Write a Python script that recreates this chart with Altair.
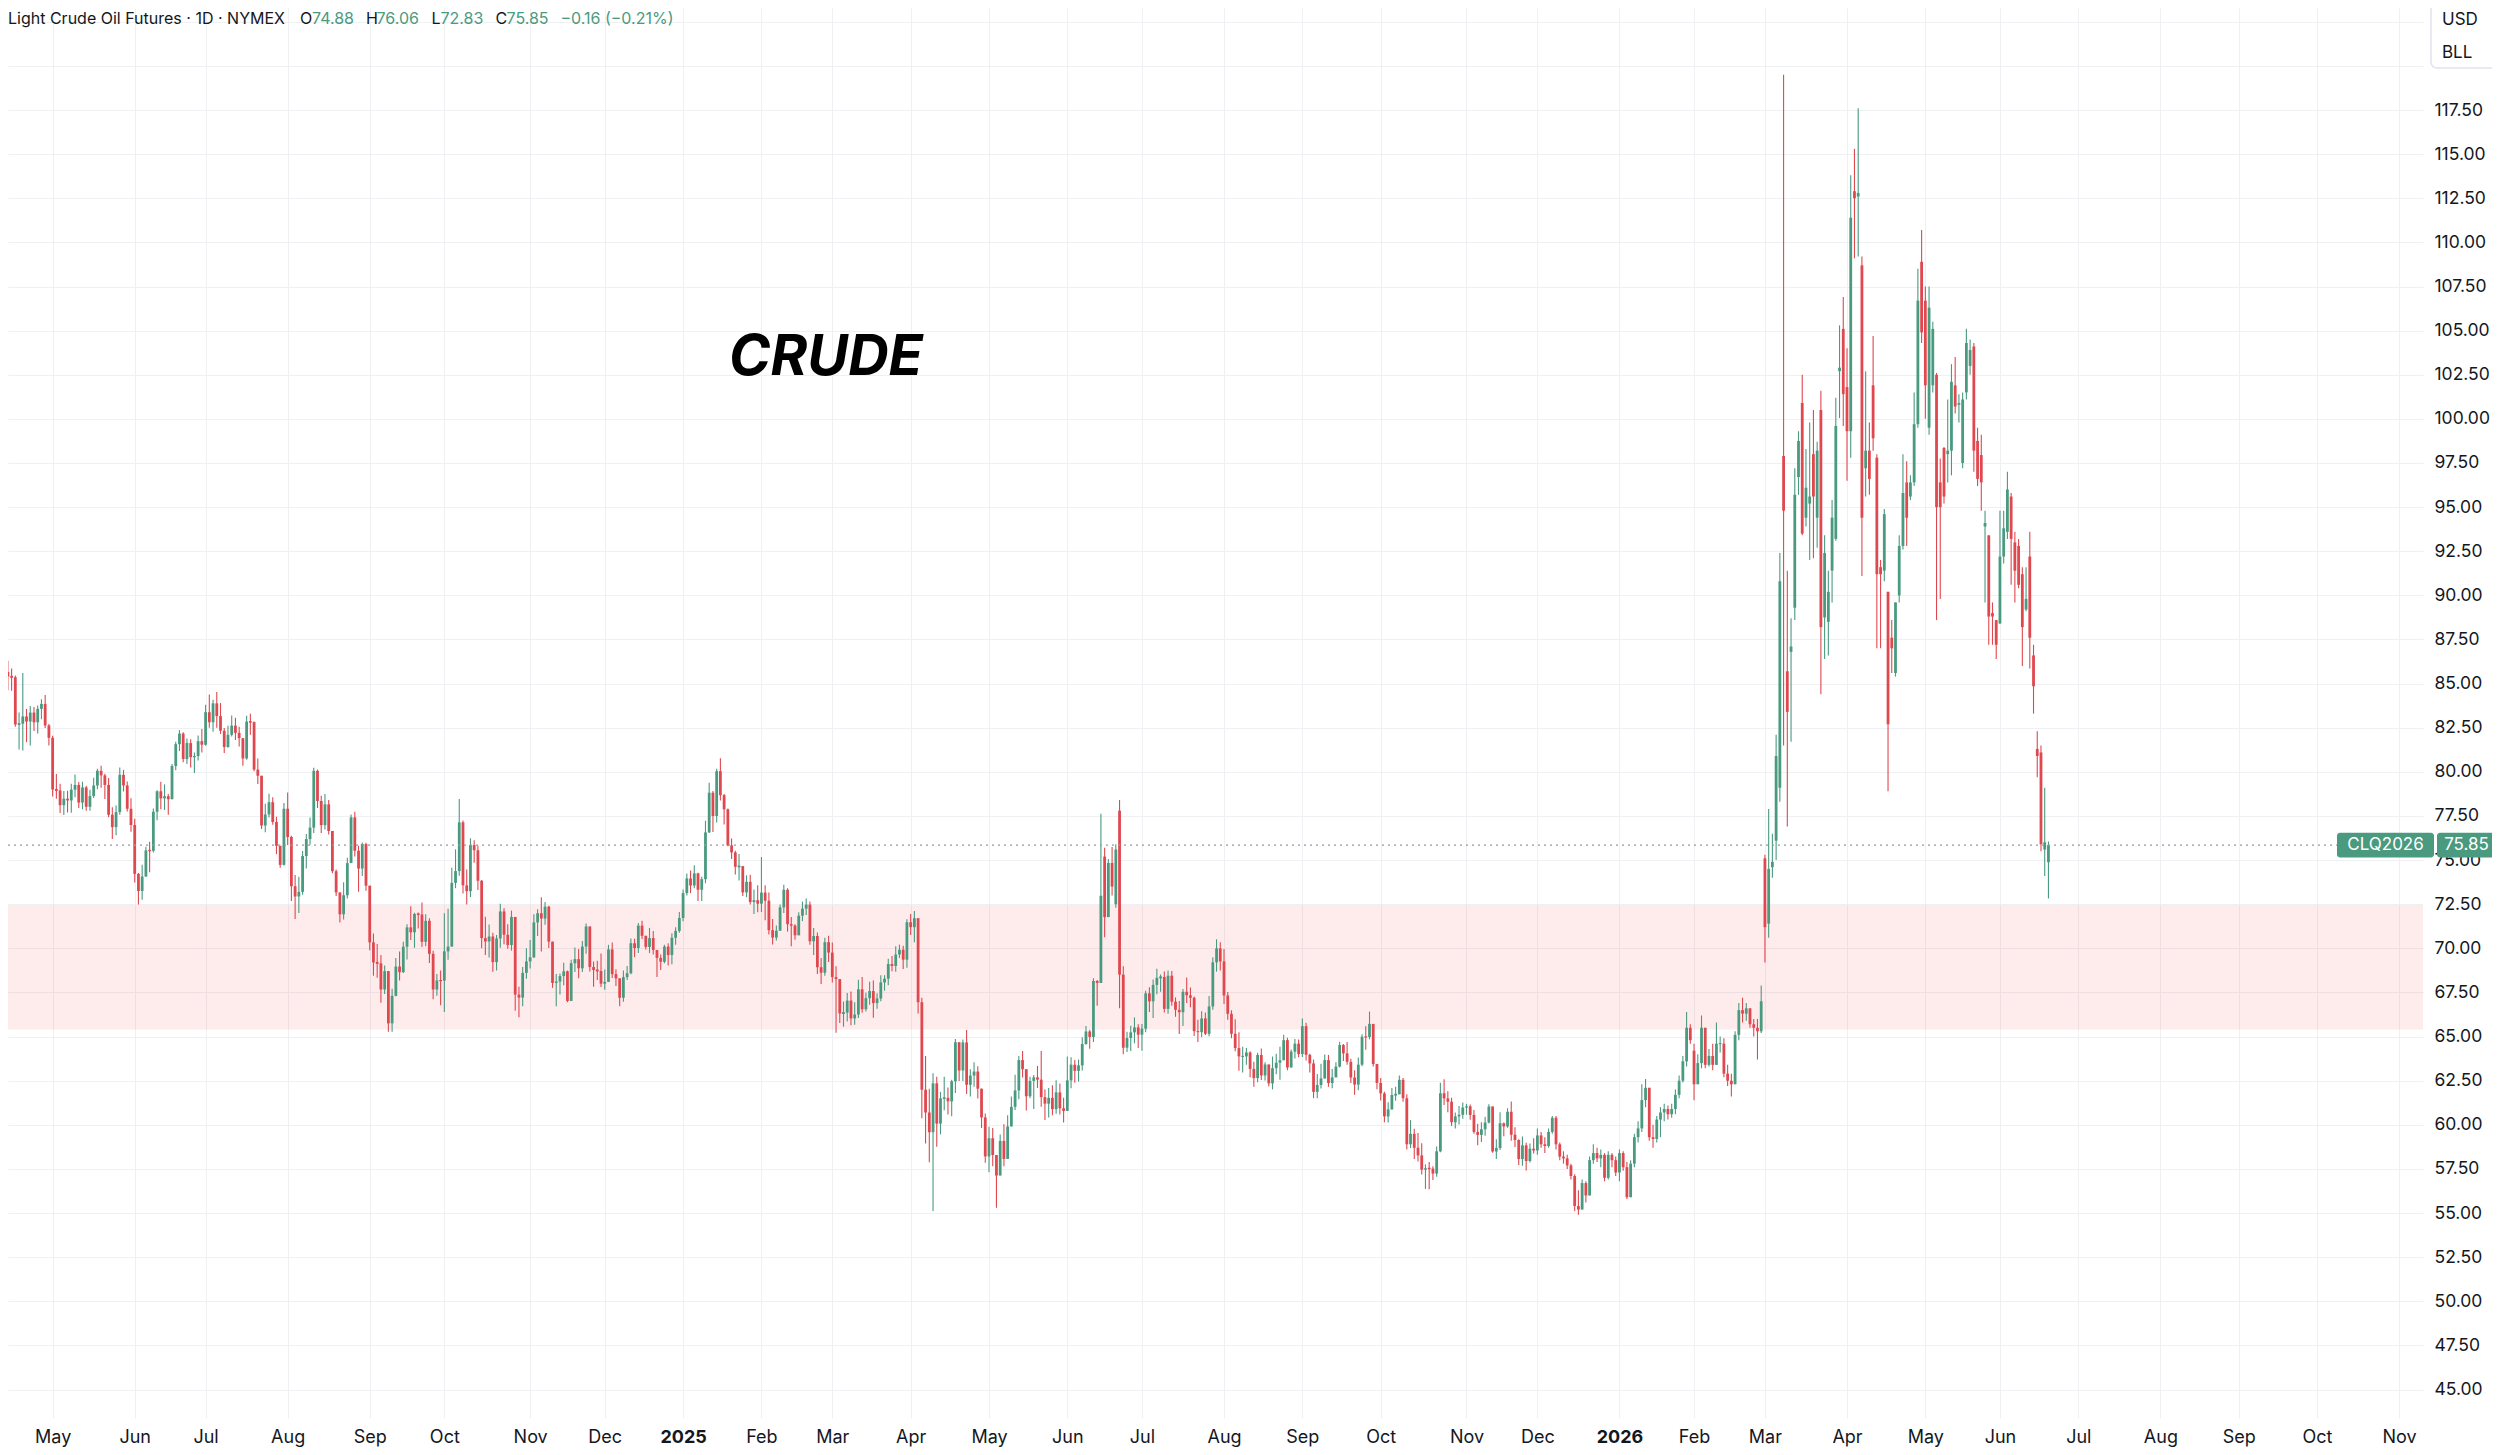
import json
import sys
from datetime import date, timedelta

import pandas as pd
import altair as alt

# ---------------------------------------------------------------- calendar
HOLIDAYS = ["2024-05-27", "2024-06-19", "2024-07-04", "2024-09-02", "2024-11-28", "2024-12-25",
            "2025-01-01", "2025-01-20", "2025-02-17", "2025-04-18", "2025-05-26", "2025-06-19",
            "2025-07-04", "2025-09-01", "2025-11-27", "2025-12-25",
            "2026-01-01", "2026-01-19", "2026-02-16", "2026-04-03", "2026-05-25", "2026-06-19",
            "2026-07-03", "2026-09-07"]
FIRST_DAY = "2024-04-12"
LAST_DAY = "2026-06-18"
AXIS_END = "2026-11-30"
FIRST_OPEN = 85.10

# ---------------------------------------------------------------- 2024 (Apr 12 - Dec 31)
C_2024 = [85.66, 85.41, 85.36, 82.69, 82.73, 83.14, 82.85, 83.36, 82.81, 83.57, 83.85, 82.63, 81.93,
          79.00, 78.95, 78.11, 78.48, 78.38, 78.99, 79.26, 78.26, 79.12, 78.02, 78.63, 79.23, 80.06, 79.80, 79.26, 77.57, 76.87, 77.72, 79.83, 79.23, 77.91, 76.99,
          74.22, 73.25, 74.07, 75.55, 75.53, 77.74, 78.90, 78.50, 78.62, 78.45, 80.33, 81.57, 82.17, 80.73, 81.63, 80.83, 80.90, 81.74, 81.54,
          83.38, 82.81, 83.88, 83.16, 82.33, 81.41, 82.10, 82.62, 82.21, 81.91, 80.76, 82.85, 82.82, 80.13, 79.78, 76.96, 77.59, 78.28, 77.16, 75.81, 74.73, 77.91,
          76.31, 73.52, 72.94, 73.20, 75.23, 76.19, 76.84, 80.06, 78.35, 76.98, 78.16, 76.65, 74.37, 73.17, 71.93, 73.01, 74.83, 77.42, 75.53, 74.52, 75.91, 73.55,
          70.34, 69.20, 69.15, 67.67, 68.71, 65.75, 67.31, 68.97, 68.65, 70.09, 71.19, 70.91, 71.95, 71.92, 70.37, 71.56, 69.69, 67.67, 68.18, 68.17,
          69.83, 70.10, 73.71, 74.38, 77.14, 73.57, 73.24, 75.85, 75.56, 73.83, 70.58, 70.39, 70.67, 69.22, 70.56, 72.09, 70.77, 70.19, 71.78, 67.38, 67.21, 68.61, 69.26,
          69.49, 71.47, 71.99, 71.69, 72.36, 70.38, 68.04, 68.12, 68.43, 68.70, 67.02, 69.16, 69.39, 68.87, 70.10, 71.24, 68.94, 68.77, 68.72, 68.00,
          68.10, 69.94, 68.54, 68.30, 67.20, 68.37, 68.59, 70.29, 70.02, 71.29, 70.71, 70.08, 70.58, 69.91, 69.46, 69.24, 70.10, 69.62, 70.60, 70.99, 71.72]
H_2024 = [86.50, 86.29, 85.86, 85.46, 83.36, 85.60, 83.57, 83.73, 83.68, 83.76, 84.12, 84.36, 82.71,
          82.05, 79.88, 79.33, 78.91, 78.93, 79.32, 79.85, 79.43, 79.44, 79.20, 78.98, 79.67, 80.18, 80.35, 79.90, 79.65, 77.99, 78.10, 80.24, 80.11, 79.45, 78.50,
          77.35, 74.27, 74.73, 75.75, 76.04, 77.92, 78.96, 79.44, 79.29, 78.75, 80.44, 81.70, 82.37, 82.24, 81.89, 81.85, 81.10, 82.06, 82.43,
          83.80, 84.38, 84.09, 84.52, 83.90, 82.48, 82.61, 83.20, 83.07, 82.55, 81.89, 83.18, 83.29, 82.86, 80.75, 79.37, 78.20, 78.76, 78.56, 77.46, 75.79, 78.24,
          78.83, 76.38, 74.16, 74.05, 75.51, 76.48, 77.42, 80.23, 80.13, 78.64, 78.74, 78.41, 76.30, 74.47, 73.10, 73.75, 75.13, 77.58, 77.74, 75.81, 76.00, 75.99,
          73.35, 70.84, 70.25, 69.63, 69.03, 68.69, 67.71, 69.45, 69.82, 70.37, 71.37, 72.39, 72.02, 72.03, 72.60, 71.93, 71.70, 69.86, 68.54, 68.75,
          71.99, 72.24, 74.57, 75.61, 78.46, 77.25, 74.47, 76.24, 76.13, 75.81, 73.87, 71.79, 71.35, 70.88, 70.75, 72.53, 72.27, 71.37, 72.14, 69.17, 67.83, 68.95, 70.01,
          70.48, 71.93, 72.21, 72.90, 72.62, 72.42, 70.25, 68.55, 68.57, 69.18, 68.74, 69.36, 70.05, 69.97, 70.42, 71.41, 71.22, 69.25, 69.30, 69.71,
          68.80, 70.20, 70.33, 68.82, 68.16, 68.74, 69.00, 70.56, 70.55, 71.43, 71.56, 70.72, 71.16, 70.98, 69.63, 69.65, 70.21, 70.29, 70.85, 71.19, 72.06]
L_2024 = [84.93, 84.63, 84.60, 82.55, 81.26, 81.21, 81.68, 81.49, 82.31, 82.17, 82.98, 82.49, 81.49,
          78.60, 78.47, 77.67, 77.55, 77.70, 77.68, 78.56, 77.95, 77.88, 77.79, 77.80, 78.52, 79.02, 79.10, 78.46, 77.43, 76.20, 76.41, 77.57, 78.89, 77.75, 76.60,
          73.73, 72.48, 72.75, 74.05, 74.31, 75.43, 77.26, 77.88, 77.84, 77.57, 78.45, 80.09, 81.18, 80.54, 80.44, 80.25, 79.94, 80.64, 81.10,
          81.48, 82.50, 82.27, 82.50, 82.15, 81.07, 81.37, 82.01, 81.81, 81.44, 80.34, 80.68, 82.10, 80.03, 79.31, 76.76, 76.58, 77.41, 77.01, 75.34, 74.57, 74.69,
          75.85, 72.69, 71.67, 72.01, 73.04, 74.52, 75.87, 76.53, 77.95, 76.53, 76.74, 76.45, 74.25, 72.97, 71.46, 71.63, 72.82, 74.88, 75.20, 73.21, 74.10, 73.26,
          69.89, 68.45, 68.33, 66.92, 67.42, 65.27, 65.27, 67.28, 68.18, 68.61, 69.37, 70.48, 70.03, 71.13, 70.07, 70.12, 69.17, 67.12, 67.31, 66.78,
          66.40, 69.35, 70.42, 73.41, 74.12, 73.11, 72.48, 72.91, 74.85, 73.31, 70.01, 69.62, 69.48, 68.68, 68.74, 70.03, 70.23, 69.98, 69.87, 66.47, 66.10, 66.72, 68.28,
          68.86, 69.46, 70.70, 69.82, 71.34, 70.02, 67.76, 66.72, 67.38, 67.91, 66.95, 67.02, 68.66, 68.31, 68.66, 69.69, 68.69, 67.82, 68.20, 67.81,
          67.65, 68.13, 68.32, 67.86, 66.72, 66.97, 68.21, 68.53, 69.50, 69.73, 70.53, 69.94, 69.73, 69.65, 68.37, 68.77, 69.15, 69.03, 69.10, 70.20, 70.89]

# ---------------------------------------------------------------- 2025
C_2025 = [73.13, 73.96, 73.56, 74.25, 73.32, 73.92, 76.57, 78.82, 77.50, 80.04, 78.68, 77.88, 75.83, 75.44, 74.62, 74.66, 73.17, 73.77, 72.62, 72.73, 72.53,
          73.16, 72.70, 71.03, 70.61, 71.00, 72.32, 73.32, 71.37, 71.29, 70.74, 71.85, 72.25, 72.48, 70.40, 70.70, 68.93, 68.62, 70.35, 69.76,
          68.37, 68.26, 66.31, 66.36, 67.04, 66.03, 66.25, 67.68, 66.55, 67.18, 67.58, 66.90, 67.16, 68.07, 68.28, 69.11, 69.00, 69.65, 69.92, 69.36, 71.48,
          71.20, 71.71, 66.95, 61.99, 60.70, 59.58, 62.35, 60.07, 61.50, 61.53, 61.33, 62.47, 64.68, 63.08, 64.67, 62.27, 62.79, 63.02, 62.05, 60.42, 58.21,
          59.24, 58.29, 57.13, 59.09, 58.07, 59.91, 61.02, 61.95, 63.67, 63.15, 61.62, 62.49, 62.69, 62.56, 61.57, 61.20, 61.53, 60.89, 61.84, 60.94, 60.79,
          62.52, 63.41, 63.06, 63.37, 64.58, 65.29, 64.98, 68.15, 68.04, 72.98, 71.77, 74.84, 73.50, 75.60, 68.51, 64.37, 64.92, 65.24, 65.52, 65.11,
          65.45, 67.45, 67.00, 67.93, 68.33, 68.38, 66.57, 68.45, 66.98, 66.52, 66.38, 67.54, 67.34, 67.20, 65.31, 65.25, 66.03, 65.16, 66.71, 69.21, 70.00, 69.26,
          67.33, 66.29, 65.16, 64.35, 63.88, 63.88, 64.10, 63.17, 62.65, 63.96, 62.80, 63.42, 62.35, 63.21, 63.52, 63.66, 64.80, 63.25, 64.15, 64.60, 64.01,
          65.59, 63.97, 63.48, 61.87, 62.26, 62.63, 63.67, 62.37, 62.69, 63.30, 64.52, 64.05, 63.57, 62.68, 62.28, 63.41, 64.99, 64.98, 65.72, 63.45, 62.37,
          61.78, 60.48, 60.88, 61.69, 61.73, 62.55, 61.51, 58.90, 59.49, 58.70, 58.27, 57.46, 57.54, 57.52, 57.24, 58.50, 61.79, 61.50, 61.31, 60.15, 60.48, 60.57, 60.98,
          61.05, 60.56, 59.60, 59.43, 59.75, 60.13, 61.04, 58.49, 58.69, 60.09, 59.91, 60.74, 59.44, 59.14, 58.06, 58.84, 57.95, 58.65, 58.55,
          59.40, 58.90, 58.80, 59.60, 60.40, 58.90, 58.20, 58.10, 57.70, 57.10, 55.40, 55.20, 56.70, 56.00, 58.00, 58.40, 58.10, 58.30, 57.00, 58.30, 58.00, 57.30]
H_2025 = [73.33, 74.24, 74.41, 74.71, 74.29, 74.06, 77.23, 79.39, 78.91, 80.18, 80.77, 78.74, 77.93, 76.23, 75.53, 75.34, 74.63, 74.14, 74.17, 73.34, 73.58,
          75.18, 73.58, 73.16, 71.66, 71.30, 72.48, 73.60, 73.41, 71.78, 71.36, 72.04, 72.65, 72.83, 72.65, 71.16, 70.90, 69.45, 70.60, 70.72,
          70.33, 68.99, 68.07, 66.99, 67.47, 67.55, 66.94, 68.22, 68.38, 67.49, 68.11, 68.18, 67.46, 68.48, 68.48, 69.41, 69.57, 70.12, 70.21, 70.15, 71.65,
          71.94, 72.11, 71.51, 67.20, 63.90, 62.04, 62.93, 62.72, 61.87, 62.72, 62.11, 62.56, 64.87, 64.56, 64.83, 65.37, 63.15, 63.55, 63.32, 61.76, 60.64,
          59.89, 59.82, 57.96, 59.45, 60.04, 60.54, 61.60, 62.84, 63.90, 64.19, 63.01, 62.72, 62.83, 63.34, 64.19, 62.00, 62.09, 62.25, 62.52, 62.34, 61.53,
          63.87, 63.83, 63.67, 63.70, 64.96, 65.60, 65.39, 68.30, 68.20, 77.62, 75.70, 75.06, 75.74, 75.90, 78.40, 68.98, 65.27, 65.61, 66.09, 65.70,
          65.72, 67.60, 67.79, 68.23, 68.85, 68.52, 68.69, 68.75, 68.72, 67.22, 67.02, 67.70, 68.35, 67.78, 67.27, 65.95, 66.43, 66.37, 67.30, 69.50, 70.51, 70.34,
          69.96, 67.53, 66.49, 65.98, 65.24, 64.42, 64.35, 64.17, 63.58, 64.08, 64.33, 63.55, 63.42, 63.87, 64.03, 64.42, 65.11, 64.94, 64.27, 64.87, 64.83,
          66.03, 65.78, 64.03, 63.70, 62.88, 63.46, 63.98, 63.96, 63.16, 63.55, 64.71, 64.58, 64.69, 63.74, 63.09, 63.81, 65.14, 65.58, 66.42, 65.50, 63.41,
          62.66, 61.88, 61.28, 62.09, 62.16, 62.79, 62.65, 61.74, 60.27, 59.78, 59.54, 58.96, 57.76, 57.90, 57.66, 58.78, 62.39, 62.59, 61.91, 61.53, 60.70, 61.07, 61.27,
          61.19, 61.15, 60.84, 60.06, 60.14, 60.46, 61.16, 61.04, 59.18, 60.71, 60.13, 60.94, 61.32, 59.86, 59.18, 59.34, 58.99, 58.95, 59.24,
          59.80, 59.60, 59.30, 59.80, 60.50, 60.50, 59.00, 58.50, 58.30, 57.80, 57.20, 56.30, 56.90, 56.80, 58.20, 58.90, 58.70, 58.60, 58.40, 58.50, 58.40, 58.20]
L_2025 = [71.53, 73.00, 73.13, 73.41, 72.69, 72.69, 73.69, 76.54, 76.59, 77.13, 78.38, 77.02, 75.78, 75.06, 74.19, 73.84, 72.96, 72.90, 72.49, 71.94, 72.04,
          72.06, 71.59, 70.78, 70.22, 70.45, 71.11, 72.00, 70.95, 70.12, 70.49, 70.74, 71.54, 71.89, 70.21, 69.62, 68.54, 67.98, 68.45, 69.23,
          68.07, 65.22, 65.77, 65.56, 65.85, 65.64, 65.67, 66.06, 66.35, 66.42, 66.80, 66.07, 66.58, 67.00, 67.60, 67.91, 68.70, 68.68, 69.45, 68.83, 68.90,
          70.75, 70.35, 66.31, 60.37, 58.95, 57.88, 55.12, 58.76, 59.46, 60.83, 60.58, 60.49, 61.80, 62.49, 62.48, 61.75, 61.61, 62.16, 61.49, 59.82, 57.85,
          57.32, 57.65, 55.30, 57.21, 57.66, 58.54, 60.06, 60.84, 61.45, 62.68, 60.81, 61.50, 60.90, 62.09, 61.02, 60.28, 60.41, 60.54, 60.63, 60.58, 60.13,
          60.86, 62.07, 62.38, 62.45, 63.08, 64.54, 64.31, 64.70, 66.75, 68.21, 70.63, 71.78, 73.00, 72.30, 66.60, 64.00, 64.13, 64.18, 64.62, 64.35,
          64.20, 65.25, 66.40, 66.06, 67.40, 67.54, 66.36, 66.30, 66.75, 66.12, 65.15, 65.60, 66.91, 66.67, 65.03, 64.69, 64.97, 65.09, 65.02, 66.52, 68.68, 68.75,
          66.84, 65.95, 64.91, 64.17, 63.07, 62.97, 63.41, 62.70, 62.16, 62.42, 62.54, 62.51, 62.18, 62.01, 62.86, 62.55, 63.67, 63.10, 63.28, 63.76, 63.83,
          63.84, 63.64, 62.96, 61.51, 61.51, 62.06, 62.61, 62.16, 62.07, 62.70, 63.25, 63.62, 63.40, 62.37, 61.71, 61.96, 63.32, 64.26, 64.84, 63.30, 62.02,
          61.38, 60.15, 60.13, 60.86, 61.36, 61.80, 61.31, 58.60, 58.68, 58.06, 57.92, 57.19, 56.37, 56.35, 56.88, 57.06, 58.45, 61.12, 60.72, 59.94, 59.79, 60.02, 60.34,
          60.58, 60.29, 59.49, 58.84, 59.03, 59.38, 60.07, 58.42, 58.06, 58.57, 59.36, 59.83, 59.10, 58.74, 57.72, 57.68, 57.41, 57.87, 58.37,
          58.30, 58.70, 58.40, 58.70, 59.50, 58.60, 58.00, 57.80, 57.50, 56.90, 55.10, 54.90, 55.50, 55.60, 56.00, 57.80, 57.90, 57.60, 56.80, 56.90, 57.60, 57.10]

# ---------------------------------------------------------------- 2026 Jan - Feb
C_2026_JF = [58.4, 57.6, 55.9, 57.8, 59.3, 59.8, 61.4, 62.1, 59.3, 59.2, 60.3, 60.7, 60.9, 60.6, 60.9, 61.7, 62.5, 63.6, 65.5, 64.8,
             62.3, 63.5, 65.5, 63.4, 63.9, 63.4, 64.6, 64.6, 62.9, 62.5, 62.3, 65.1, 66.5, 66.3, 66.6, 65.7, 65.5, 65.3, 67.0]
H_2026_JF = [58.6, 58.5, 57.9, 58.0, 59.5, 60.2, 62.3, 62.6, 61.2, 60.0, 60.5, 61.0, 61.2, 61.1, 61.2, 62.0, 62.8, 63.9, 66.4, 65.7,
             64.6, 64.0, 66.2, 65.5, 64.3, 64.6, 65.8, 65.0, 64.9, 63.4, 62.9, 65.3, 66.9, 67.2, 66.9, 66.6, 66.0, 66.0, 67.9]
L_2026_JF = [56.8, 57.4, 55.8, 55.9, 57.6, 59.0, 59.6, 61.0, 59.1, 58.7, 59.0, 59.3, 60.2, 60.3, 60.4, 60.6, 61.5, 62.4, 63.3, 64.6,
             61.4, 62.3, 63.2, 63.2, 63.3, 63.1, 63.4, 64.1, 62.7, 62.2, 61.6, 62.3, 64.8, 65.8, 65.9, 65.5, 65.0, 63.7, 65.2]

# ---------------------------------------------------------------- 2026 Mar 2 - Jun 18 (explicit opens)
O_2026_MJ = [75.1, 71.4, 74.6, 76.1, 79.1, 97.9, 85.7, 86.8, 89.3, 96.7, 100.9, 94.4, 95.2, 98.0, 94.4, 100.5, 88.75, 88.5, 91.4, 93.2, 102.7, 105.1,
             101.8, 99.3, 112.9, 112.6, 108.7, 97.2, 98.2, 101.9, 97.8, 91.6, 91.4, 90.2, 87.6, 85.6, 90.0, 92.8, 96.4, 95.6, 96.4, 99.7, 108.9,
             106.7, 99.5, 101.9, 102.5, 96.4, 98.35, 98.0, 98.2, 101.9, 100.8, 97.5, 101.5, 103.0, 104.1, 98.75, 97.95, 93.9, 93.4, 89.0, 88.6,
             88.4, 92.2, 93.6, 95.6, 93.0, 92.8, 91.2, 89.2, 92.2, 86.6, 81.3, 81.1, 75.6, 74.88]
H_2026_MJ = [75.3, 77.9, 76.5, 82.1, 92.4, 119.5, 91.4, 88.7, 97.2, 99.3, 102.5, 98.3, 99.8, 100.5, 98.7, 101.6, 93.4, 91.4, 95.4, 101.2, 105.3, 106.9,
             104.0, 113.8, 115.3, 117.6, 109.2, 102.7, 99.8, 104.7, 98.0, 92.0, 94.9, 90.2, 88.6, 89.6, 93.4, 98.0, 97.6, 96.8, 101.5, 108.5, 110.7,
             107.5, 107.5, 105.5, 102.6, 97.75, 98.4, 101.1, 103.1, 103.5, 101.4, 101.5, 105.1, 104.5, 104.3, 99.5, 99.1, 94.8, 93.4, 89.6, 88.6,
             94.8, 94.8, 97.0, 95.8, 93.6, 93.2, 91.6, 91.6, 93.6, 87.2, 82.3, 81.5, 79.1, 76.06]
L_2026_MJ = [69.2, 70.6, 74.0, 75.0, 78.3, 81.5, 76.9, 81.7, 88.6, 95.7, 93.4, 93.9, 92.0, 92.1, 92.7, 84.4, 86.4, 86.6, 89.6, 93.1, 100.05, 99.6,
             96.5, 97.8, 109.1, 109.2, 91.1, 95.6, 95.7, 98.2, 87.0, 87.0, 90.8, 78.9, 85.6, 85.4, 89.6, 92.6, 92.8, 95.4, 96.2, 99.5, 104.3,
             100.0, 99.1, 101.5, 88.6, 89.8, 95.2, 96.4, 96.8, 100.3, 99.8, 97.2, 101.1, 102.5, 97.0, 96.2, 94.8, 89.6, 87.2, 87.2, 86.4,
             88.4, 91.8, 93.2, 90.6, 89.6, 90.4, 86.0, 89.1, 85.85, 83.3, 79.7, 75.5, 74.1, 72.83]
C_2026_MJ = [71.2, 74.5, 74.9, 80.9, 90.8, 94.8, 83.4, 87.1, 95.7, 98.75, 93.5, 96.1, 95.6, 95.6, 98.2, 88.2, 92.4, 90.2, 94.4, 99.6, 102.9, 101.4,
             99.3, 111.4, 112.5, 112.8, 94.4, 98.2, 96.6, 98.9, 91.2, 91.2, 94.6, 82.7, 87.0, 89.6, 92.8, 95.8, 94.4, 96.4, 99.7, 106.7, 104.9,
             101.9, 106.3, 105.1, 95.0, 95.0, 95.6, 98.2, 102.1, 100.7, 100.9, 101.1, 104.3, 103.9, 98.2, 96.6, 96.4, 94.1, 88.8, 88.8, 87.2,
             92.2, 93.8, 96.0, 93.2, 91.4, 90.6, 88.2, 89.8, 87.6, 84.85, 80.9, 75.9, 76.01, 75.85]

# opens that gapped away from the previous close
OPEN_GAPS = {"2025-06-16": 75.2, "2025-06-20": 72.5, "2025-06-23": 77.8, "2026-02-02": 64.2}

ZONE = [65.40, 72.45]          # shaded support zone (bottom, top)
LAST_PRICE = 75.85
HEADER_VALUES = ["74.88", "76.06", "72.83", "75.85", "\u22120.16 (\u22120.21%)"]

# ---------------------------------------------------------------- layout constants
PLOT_W, PLOT_H = 2415, 1410
BAR_PX = 3.746                 # px per session
MAY24_IDX, MAY24_PX = 13, 39.8
X0 = MAY24_IDX - MAY24_PX / BAR_PX
X1 = MAY24_IDX + (PLOT_W - MAY24_PX) / BAR_PX
Y0, Y1 = 43.39, 123.28

GREEN = "#4a9a80"
RED = "#e04850"
GRID = "#eef0f3"
TEXT = "#131722"
FONT = "Inter"

# ---------------------------------------------------------------- build table
hol = {date.fromisoformat(h) for h in HOLIDAYS}


def sessions(a, b):
    out, d = [], a
    while d <= b:
        if d.weekday() < 5 and d not in hol:
            out.append(d)
        d += timedelta(days=1)
    return out


hist = sessions(date.fromisoformat(FIRST_DAY), date.fromisoformat(LAST_DAY))
future = sessions(date.fromisoformat(LAST_DAY) + timedelta(days=1), date.fromisoformat(AXIS_END))
cal = hist + future

closes = C_2024 + C_2025 + C_2026_JF + C_2026_MJ
highs = H_2024 + H_2025 + H_2026_JF + H_2026_MJ
lows = L_2024 + L_2025 + L_2026_JF + L_2026_MJ
if not (len(closes) == len(highs) == len(lows) == len(hist)):
    print("length mismatch", len(hist), len(closes), len(highs), len(lows), file=sys.stderr)
n = min(len(hist), len(closes), len(highs), len(lows))

opens = [FIRST_OPEN] + closes[:-1]
k0 = len(closes) - len(O_2026_MJ)
opens[k0:] = O_2026_MJ
for d, v in OPEN_GAPS.items():
    opens[hist.index(date.fromisoformat(d))] = v

rows = []
for i in range(n):
    o, c = opens[i], closes[i]
    h = max(highs[i], o, c)
    lo = min(lows[i], o, c)
    top, bot = max(o, c), min(o, c)
    if top - bot < 0.06:
        top, bot = top + 0.03, bot - 0.03
    rows.append({"i": i, "date": hist[i].isoformat(), "O": o, "H": h, "L": lo, "C": c,
                 "bt": top, "bb": bot, "dir": "up" if c >= o else "down"})
df = pd.DataFrame(rows)

# month ticks
tick_idx, tick_lbl, year_idx = [], [], []
seen = set()
for k, d in enumerate(cal):
    key = (d.year, d.month)
    if key in seen:
        continue
    seen.add(key)
    if d < date(2024, 5, 1):
        continue
    tick_idx.append(k)
    if d.month == 1:
        tick_lbl.append(str(d.year))
        year_idx.append(k)
    else:
        tick_lbl.append(d.strftime("%b"))

x_label_expr = f"{json.dumps(tick_lbl)}[indexof({json.dumps(tick_idx)}, datum.value)]"
year_test = " || ".join(f"datum.value == {k}" for k in year_idx)

y_vals = [45 + 2.5 * k for k in range(32)]

X_SCALE = alt.Scale(domain=[X0, X1], nice=False, zero=False)
Y_SCALE = alt.Scale(domain=[Y0, Y1], nice=False, zero=False)
X_AXIS = alt.Axis(values=tick_idx, labelExpr=x_label_expr, grid=True, gridColor=GRID, gridWidth=1,
                  ticks=False, tickSize=0, domain=False, labelFont=FONT, labelFontSize=18,
                  labelColor=TEXT, labelPadding=10, labelOverlap=False, labelFlush=False, title=None,
                  labelFontWeight={"condition": {"test": year_test, "value": "bold"}, "value": "normal"})
Y_AXIS = alt.Axis(orient="right", values=y_vals,
                  labelExpr="datum.value <= 117.5 ? format(datum.value, '.2f') : ''",
                  grid=True, gridColor=GRID, gridWidth=1, ticks=False, tickSize=0, domain=False,
                  labelFont=FONT, labelFontSize=17.5, labelColor=TEXT, labelPadding=11,
                  labelAlign="left", labelBaseline="middle", labelOverlap=False, labelFlush=False,
                  title=None)


def xq(f):
    return alt.X(f, type="quantitative", scale=X_SCALE, axis=X_AXIS)


def yq(f):
    return alt.Y(f, type="quantitative", scale=Y_SCALE, axis=Y_AXIS)


color = alt.Color("dir:N", scale=alt.Scale(domain=["up", "down"], range=[GREEN, RED]), legend=None)

zone_df = pd.DataFrame({"bottom": [ZONE[0]], "top": [ZONE[1]]})
zone = alt.Chart(zone_df).mark_rect(color="#f23645", opacity=0.1).encode(
    x=alt.value(0), x2=alt.value(PLOT_W), y=yq("top"), y2="bottom:Q")

wicks = alt.Chart(df).mark_rule(strokeWidth=1.1, clip=True).encode(
    x=xq("i"), y=yq("L"), y2="H:Q", color=color)
bodies = alt.Chart(df).mark_bar(width=2.8, clip=True).encode(
    x=xq("i"), y=yq("bt"), y2="bb:Q", color=color)

last_df = pd.DataFrame({"p": [LAST_PRICE], "top": [LAST_PRICE + 0.70], "bottom": [LAST_PRICE - 0.70],
                        "t": [f"{LAST_PRICE:.2f}"], "sym": ["CLQ2026"]})
price_line = alt.Chart(last_df).mark_rule(color="#9598a1", strokeDash=[2, 4], strokeWidth=1.3).encode(
    y=yq("p"), x=alt.value(0), x2=alt.value(2329))
box1 = alt.Chart(last_df).mark_rect(color=GREEN, cornerRadius=3).encode(
    y=yq("top"), y2="bottom:Q", x=alt.value(2329), x2=alt.value(2426))
box2 = alt.Chart(last_df).mark_rect(color=GREEN, cornerRadius=3).encode(
    y=yq("top"), y2="bottom:Q", x=alt.value(2429), x2=alt.value(2488))
sym_txt = alt.Chart(last_df).mark_text(font=FONT, fontSize=17, color="white", align="center",
                                       baseline="middle").encode(
    y=yq("p"), x=alt.value(2377.5), text="sym:N")
val_txt = alt.Chart(last_df).mark_text(font=FONT, fontSize=17, color="white", align="center",
                                       baseline="middle").encode(
    y=yq("p"), x=alt.value(2458.5), text="t:N")

one = pd.DataFrame({"k": [0]})


def label(text, x, y, size, color, weight="normal", style="normal", align="left", baseline="middle"):
    return alt.Chart(one).mark_text(text=text, font=FONT, fontSize=size, color=color, fontWeight=weight,
                                    fontStyle=style, align=align, baseline=baseline).encode(
        x=alt.value(x), y=alt.value(y))


HY = 11
header = [
    label("Light Crude Oil Futures \u00b7 1D \u00b7 NYMEX", 0, HY, 16, TEXT),
    label("O", 292, HY, 16, TEXT), label(HEADER_VALUES[0], 304, HY, 16, GREEN),
    label("H", 358, HY, 16, TEXT), label(HEADER_VALUES[1], 368.5, HY, 16, GREEN),
    label("L", 423.5, HY, 16, TEXT), label(HEADER_VALUES[2], 432.5, HY, 16, GREEN),
    label("C", 487.5, HY, 16, TEXT), label(HEADER_VALUES[3], 498.5, HY, 16, GREEN),
    label(HEADER_VALUES[4], 552.5, HY, 16, GREEN),
]
crude = label("CRUDE", 721, 367, 56, "#000000", weight="bold", style="italic", baseline="alphabetic")

unit_box = alt.Chart(one).mark_rect(fill="white", stroke="#e0e3eb", strokeWidth=1.5, cornerRadius=6).encode(
    x=alt.value(2423), x2=alt.value(2500), y=alt.value(-4), y2=alt.value(60))
usd = label("USD", 2434, 12, 17, TEXT)
bll = label("BLL", 2434, 45, 17, TEXT)

chart = alt.layer(
    zone, wicks, bodies, price_line, box1, box2, sym_txt, val_txt,
    *header, crude, unit_box, usd, bll
).properties(
    width=PLOT_W, height=PLOT_H,
    autosize=alt.AutoSizeParams(type="none"),
    padding={"left": 0, "top": 0, "right": 69, "bottom": 29},
    background="white",
).configure_view(stroke=None)

chart.save("out.html", embed_options={"renderer": "svg", "actions": False})
